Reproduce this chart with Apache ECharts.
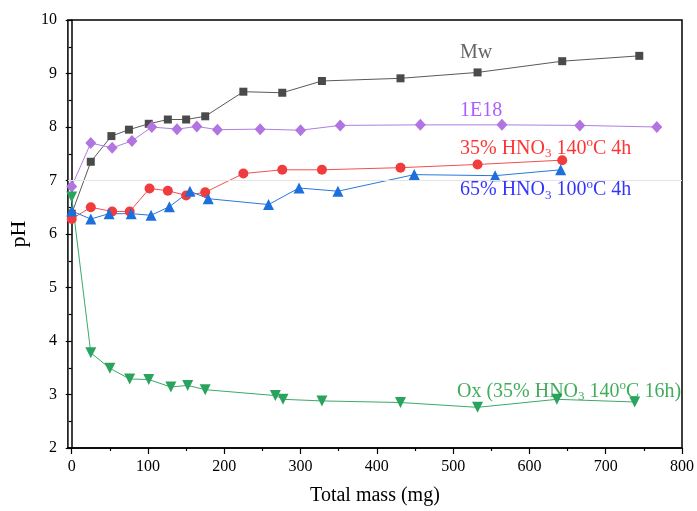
<!DOCTYPE html>
<html><head><meta charset="utf-8">
<script src="https://cdn.jsdelivr.net/npm/echarts@6/dist/echarts.min.js"></script>
<style>html,body{margin:0;padding:0;background:#fff}#c{width:697px;height:511px}</style>
</head><body><div id="c"></div>
<script>
const xTicks=[0,100,200,300,400,500,600,700,800];
const xMinorTicks=[50,150,250,350,450,550,650,750];
const mwX=[0,25,52,75,101,126,150,175,225,276,328,431,532,643,744];
const mwY=[6.38,7.35,7.83,7.95,8.06,8.14,8.14,8.20,8.66,8.64,8.86,8.91,9.02,9.23,9.33];
const e18X=[0,25,53,79,105,138,164,191,247,300,352,457,564,666,767];
const e18Y=[6.89,7.70,7.61,7.74,8.00,7.96,8.01,7.95,7.96,7.94,8.03,8.04,8.04,8.03,8.00];
const h35X=[0,25,53,76,102,126,150,175,225,276,328,431,532,643];
const h35Y=[6.28,6.50,6.42,6.42,6.85,6.81,6.72,6.78,7.13,7.20,7.20,7.24,7.30,7.38];
const h65X=[0,25,49,78,104,128,155,179,258,298,349,449,555,641];
const h65Y=[6.43,6.28,6.38,6.38,6.35,6.51,6.80,6.66,6.55,6.86,6.80,7.11,7.09,7.20];
const oxX=[0,25,50,76,101,130,152,175,267,277,328,431,532,636,738];
const oxY=[6.69,3.78,3.49,3.29,3.28,3.14,3.17,3.09,2.98,2.91,2.88,2.85,2.76,2.91,2.86];
const refLine=7;
const labelTexts=[
  {t:'{m|Mw}',x:509,y:9.38,c:'#3c3c3c'},
  {t:'{m|1E18}',x:509,y:8.30,c:'#9933ff'},
  {t:'{m|35% HNO}{sub|3}{m| 140}{sup|o}{m|C 4h}',x:509,y:7.60,c:'#ff0000'},
  {t:'{m|65% HNO}{sub|3}{m| 100}{sup|o}{m|C 4h}',x:509,y:6.82,c:'#0000ff'},
  {t:'{m|Ox (35% HNO}{sub|3}{m| 140}{sup|o}{m|C 16h)}',x:505,y:3.06,c:'#119933'}
];
const FONT='"Liberation Serif","Times New Roman",serif';
const zip=(a,b)=>a.map((v,i)=>[v,b[i]]);
function ser(name,xs,ys,sym,size,col,lineCol){
  return {name,type:'line',data:zip(xs,ys),symbol:sym,symbolSize:size,
    itemStyle:{color:col},lineStyle:{color:lineCol,width:1},emphasis:{disabled:true},z:3};
}
const series=[
  ser('Mw',mwX,mwY,'rect',8,'#4a4a4a','#5a5a5a'),
  ser('1E18',e18X,e18Y,'diamond',[11,12],'#b274e0','#b07ee0'),
  ser('35',h35X,h35Y,'circle',10,'#f03c3c','#f05050'),
  ser('65',h65X,h65Y,'triangle',11,'#1c6fdc','#2a78dc'),
  ser('Ox',oxX,oxY,'path://M0,0L10,0L5,9Z',11,'#2aa35e','#3aaa6a')
];
series[0].markLine={silent:true,symbol:'none',label:{show:false},lineStyle:{color:'#e4e4e4',width:1,type:'solid'},data:[{yAxis:refLine}]};
series.push({type:'scatter',silent:true,symbolSize:0,z:5,
  data:labelTexts.map(l=>({value:[l.x,l.y],label:{formatter:l.t,
    rich:{m:{fontSize:20,fontFamily:FONT,color:l.c,lineHeight:24,verticalAlign:'middle'},
          sub:{fontSize:13,fontFamily:FONT,color:l.c,lineHeight:9,verticalAlign:'bottom'},
          sup:{fontSize:13,fontFamily:FONT,color:l.c,lineHeight:14,verticalAlign:'top'}}}})),
  label:{show:true,position:'right',distance:0}});
const chart=echarts.init(document.getElementById('c'),null,{renderer:'canvas'});
chart.setOption({
  animation:false,backgroundColor:'#fff',
  grid:{left:66,right:12,top:20,bottom:59,show:true,borderColor:'#000',borderWidth:1.5,backgroundColor:'transparent'},
  xAxis:[{type:'value',min:-5,max:800,name:'Total mass (mg)',nameLocation:'middle',nameGap:38,
    nameTextStyle:{fontFamily:FONT,fontSize:20,color:'#000'},
    axisLine:{lineStyle:{color:'#000',width:1.5}},
    axisTick:{customValues:xTicks,length:6,lineStyle:{color:'#000',width:1.2}},
    axisLabel:{customValues:xTicks,fontFamily:FONT,fontSize:16,color:'#000',margin:11},
    splitLine:{show:false}},
   {type:'value',min:-5,max:800,position:'bottom',
    axisLine:{show:false},axisTick:{customValues:xMinorTicks,length:3,lineStyle:{color:'#000',width:1.2}},
    axisLabel:{show:false},splitLine:{show:false}}],
  yAxis:{type:'value',min:2,max:10,interval:1,name:'pH',nameLocation:'middle',nameGap:36,nameRotate:90,
    nameTextStyle:{fontFamily:FONT,fontSize:22,color:'#000'},
    axisLine:{show:true,lineStyle:{color:'#000',width:1.5}},
    axisTick:{length:6,lineStyle:{color:'#000',width:1.2}},
    minorTick:{show:true,splitNumber:2,length:3,lineStyle:{color:'#000',width:1.2}},
    axisLabel:{fontFamily:FONT,fontSize:16,color:'#000',margin:11},
    splitLine:{show:false}},
  series
});
</script></body></html>
